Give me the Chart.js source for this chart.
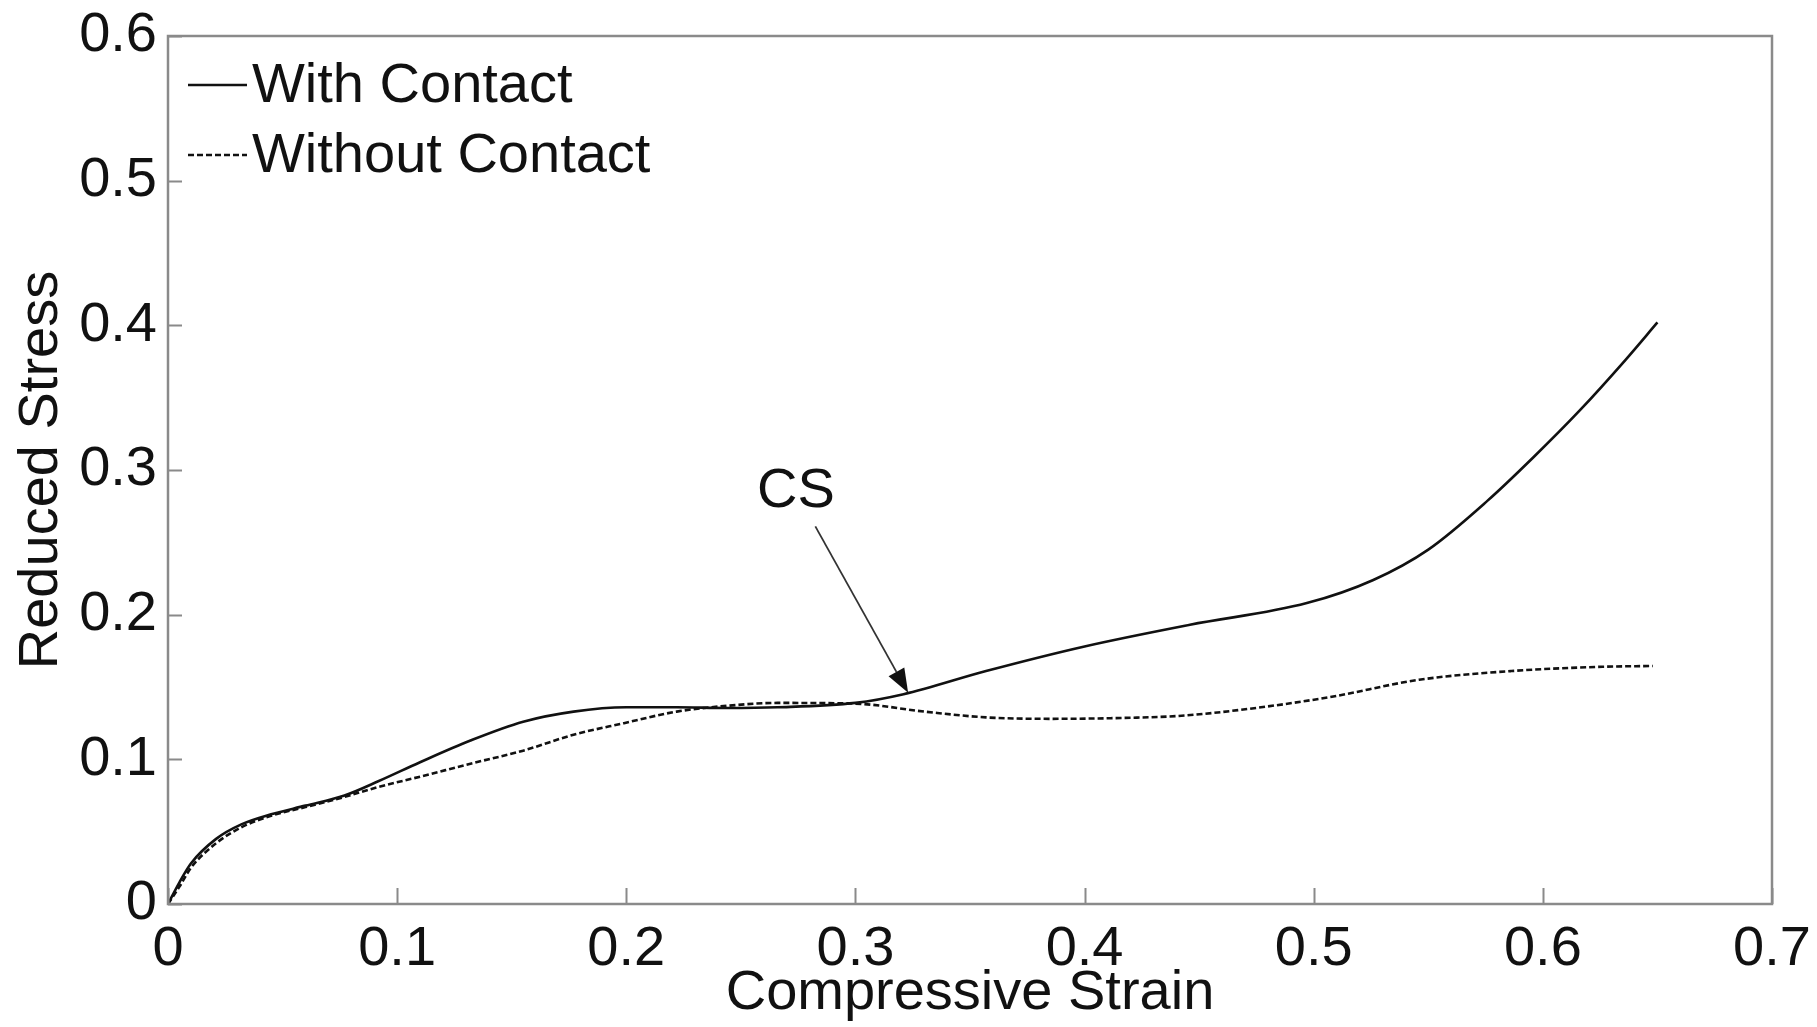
<!DOCTYPE html>
<html>
<head>
<meta charset="utf-8">
<script src="https://cdn.jsdelivr.net/npm/chart.js@4"></script>
<style>
  html, body { margin: 0; padding: 0; background: #fff; }
  #wrap { width: 1817px; height: 1027px; }
</style>
</head>
<body>
<div id="wrap"><canvas id="c" width="1817" height="1027"></canvas></div>
<script>
// ---- data ----
const withContactX = [0, 0.005, 0.010, 0.021, 0.032, 0.045, 0.060, 0.077, 0.092, 0.110, 0.132, 0.155, 0.177, 0.200, 0.222, 0.244, 0.266, 0.300, 0.321, 0.357, 0.400, 0.446, 0.497, 0.526, 0.550, 0.576, 0.596, 0.616, 0.636, 0.650];
const withContactY = [0, 0.015, 0.028, 0.045, 0.055, 0.062, 0.068, 0.075, 0.085, 0.098, 0.113, 0.126, 0.133, 0.136, 0.136, 0.1355, 0.136, 0.139, 0.145, 0.161, 0.178, 0.193, 0.208, 0.224, 0.245, 0.279, 0.309, 0.341, 0.376, 0.402];
const withoutContactX = [0, 0.005, 0.010, 0.021, 0.032, 0.045, 0.060, 0.077, 0.092, 0.110, 0.132, 0.155, 0.177, 0.199, 0.222, 0.244, 0.266, 0.300, 0.330, 0.357, 0.385, 0.413, 0.441, 0.467, 0.507, 0.546, 0.586, 0.626, 0.648];
const withoutContactY = [0, 0.012, 0.025, 0.042, 0.053, 0.061, 0.067, 0.074, 0.081, 0.088, 0.097, 0.106, 0.117, 0.125, 0.133, 0.137, 0.139, 0.1385, 0.133, 0.129, 0.128, 0.1285, 0.130, 0.134, 0.143, 0.155, 0.161, 0.164, 0.1645];
const seriesNames = ["With Contact", "Without Contact"];
const xTicks = [0, 0.1, 0.2, 0.3, 0.4, 0.5, 0.6, 0.7];
const yTicks = [0, 0.1, 0.2, 0.3, 0.4, 0.5, 0.6];
const xTitle = "Compressive Strain";
const yTitle = "Reduced Stress";
const annotationText = "CS";
const annotationTextPos = [0.274, 0.285];   // [x, y] data coords of label centre
const arrowStart = [0.2825, 0.261];
const arrowTip = [0.323, 0.146];

const FONT = "'Liberation Sans', Arial, Helvetica, sans-serif";
const FS = 56;
const INK = '#111';
const AXIS = '#8a8a8a';

function pts(xs, ys) { return xs.map((x, i) => ({ x: x, y: ys[i] })); }

const decor = {
  id: 'decor',
  afterDatasetsDraw(chart) {
    const ctx = chart.ctx;
    const a = chart.chartArea;
    const xs = chart.scales.x, ys = chart.scales.y;
    ctx.save();
    // inward ticks
    ctx.strokeStyle = AXIS;
    ctx.lineWidth = 2;
    ctx.beginPath();
    xTicks.forEach(v => {
      const px = Math.round(xs.getPixelForValue(v)) + 0.5;
      ctx.moveTo(px, a.bottom);
      ctx.lineTo(px, a.bottom - 16);
    });
    yTicks.forEach(v => {
      const py = Math.round(ys.getPixelForValue(v)) + 0.5;
      ctx.moveTo(a.left, py);
      ctx.lineTo(a.left + 14, py);
    });
    ctx.stroke();
    // box
    ctx.lineWidth = 2.5;
    ctx.strokeRect(a.left, a.top, a.right - a.left, a.bottom - a.top);

    // annotation arrow
    const sx = xs.getPixelForValue(arrowStart[0]), sy = ys.getPixelForValue(arrowStart[1]);
    const tx = xs.getPixelForValue(arrowTip[0]), ty = ys.getPixelForValue(arrowTip[1]);
    const ang = Math.atan2(ty - sy, tx - sx);
    const headLen = 24, headW = 9;
    const bx = tx - headLen * Math.cos(ang), by = ty - headLen * Math.sin(ang);
    ctx.strokeStyle = '#333';
    ctx.lineWidth = 1.8;
    ctx.beginPath();
    ctx.moveTo(sx, sy);
    ctx.lineTo(bx, by);
    ctx.stroke();
    ctx.fillStyle = '#111';
    ctx.beginPath();
    ctx.moveTo(tx, ty);
    ctx.lineTo(bx + headW * Math.sin(ang), by - headW * Math.cos(ang));
    ctx.lineTo(bx - headW * Math.sin(ang), by + headW * Math.cos(ang));
    ctx.closePath();
    ctx.fill();

    // annotation text
    ctx.fillStyle = INK;
    ctx.font = FS + 'px ' + FONT;
    ctx.textAlign = 'center';
    ctx.textBaseline = 'middle';
    ctx.fillText(annotationText, xs.getPixelForValue(annotationTextPos[0]), ys.getPixelForValue(annotationTextPos[1]));

    // legend (no box), inside top-left
    ctx.textAlign = 'left';
    chart.data.datasets.forEach((ds, i) => {
      const yy = a.top + 49 + i * 70;
      ctx.strokeStyle = ds.borderColor;
      ctx.lineWidth = 2.5;
      ctx.setLineDash(ds.borderDash || []);
      ctx.beginPath();
      ctx.moveTo(a.left + 20, yy);
      ctx.lineTo(a.left + 79, yy);
      ctx.stroke();
      ctx.setLineDash([]);
      ctx.fillStyle = INK;
      ctx.fillText(ds.label, a.left + 84, yy + 2);
    });
    ctx.restore();
  }
};

new Chart(document.getElementById('c'), {
  type: 'line',
  data: {
    datasets: [
      {
        label: seriesNames[0],
        data: pts(withContactX, withContactY),
        borderColor: INK,
        borderWidth: 2.6,
        pointRadius: 0,
        fill: false,
        cubicInterpolationMode: 'monotone'
      },
      {
        label: seriesNames[1],
        data: pts(withoutContactX, withoutContactY),
        borderColor: INK,
        borderWidth: 2.6,
        borderDash: [6, 3],
        pointRadius: 0,
        fill: false,
        cubicInterpolationMode: 'monotone'
      }
    ]
  },
  options: {
    responsive: false,
    animation: false,
    devicePixelRatio: 1,
    layout: { padding: { top: 36, right: 45, bottom: 0, left: 0 } },
    plugins: { legend: { display: false }, tooltip: { enabled: false } },
    scales: {
      x: {
        type: 'linear',
        min: 0, max: 0.7,
        afterBuildTicks(s) { s.ticks = xTicks.map(v => ({ value: v })); },
        afterFit(s) { s.height = 123; s.paddingLeft = 0; s.paddingRight = 0; },
        grid: { display: false, drawTicks: false },
        border: { display: false },
        ticks: {
          padding: 12,
          color: INK,
          font: { family: FONT, size: FS, lineHeight: 1.2 },
          maxRotation: 0,
          callback: v => String(v)
        },
        title: {
          display: true, text: xTitle, color: INK,
          font: { family: FONT, size: FS, lineHeight: 1.2 },
          padding: { top: 0, bottom: 0 }
        }
      },
      y: {
        type: 'linear',
        min: 0, max: 0.6,
        afterBuildTicks(s) { s.ticks = yTicks.map(v => ({ value: v })); },
        afterFit(s) { s.width = 168; s.paddingTop = 0; s.paddingBottom = 0; },
        grid: { display: false, drawTicks: false },
        border: { display: false },
        ticks: {
          padding: 11,
          color: INK,
          font: { family: FONT, size: FS, lineHeight: 1.2 },
          callback: v => String(v)
        },
        title: {
          display: true, text: yTitle, color: INK,
          font: { family: FONT, size: FS, lineHeight: 1.2 },
          padding: { top: 8, bottom: 0 }
        }
      }
    }
  },
  plugins: [decor]
});
</script>
</body>
</html>
